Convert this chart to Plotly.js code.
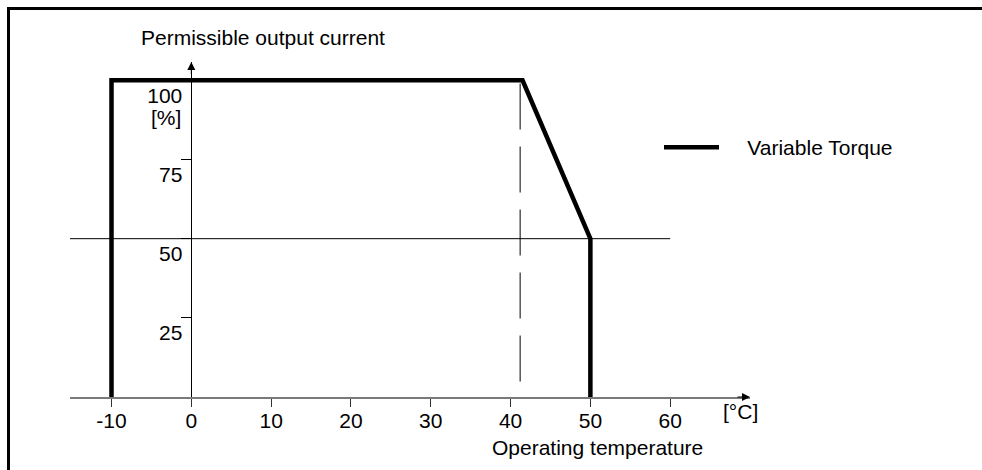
<!DOCTYPE html>
<html>
<head>
<meta charset="utf-8">
<script src="https://cdn.plot.ly/plotly-3.0.1.min.js"></script>
<style>
  html, body { margin: 0; padding: 0; background: #fff; }
  #chart { width: 982px; height: 470px; }
</style>
</head>
<body>
<div id="chart"></div>
<script>
// ---- data ----
const seriesName = 'Variable Torque';
const tempC = [-10, -10, 41.5, 50, 50];          // operating temperature [°C]
const currentPct = [0, 100, 100, 50, 0];         // permissible output current [%]
const refLineX = [-15.2, 60];                     // 50 % reference line
const refLineY = [50, 50];
const kneeDashX = [41.2, 41.2];                   // dashed guide at derating start
const kneeDashY = [99, 0];
const xTickVals = [-10, 0, 10, 20, 30, 40, 50, 60];
const xTickText = ['-10', '0', '10', '20', '30', '40', '50', '60'];
const yTickVals = [25, 50, 75, 100];
const yTickText = ['25', '50', '75', '100'];
const xRange = [-15.2, 70];
const yRange = [0, 105.8];

// ---- layout geometry ----
const W = 982, H = 470;
const M = { l: 70, r: 232, t: 62, b: 73 };
const pw = W - M.l - M.r, ph = H - M.t - M.b;
const px2paperX = px => (px - M.l) / pw;
const px2paperY = py => (H - M.b - py) / ph;
const yAxisPos = (0 - xRange[0]) / (xRange[1] - xRange[0]);

const FONT = 'Liberation Sans, Arial, sans-serif';
const FS = 21;
const tf = { family: FONT, size: FS, color: '#000' };
const legendGap = '\u00a0\u00a0\u00a0\u00a0';

const traces = [
  {
    x: refLineX, y: refLineY, mode: 'lines', showlegend: false,
    line: { color: '#000', width: 1 }, hoverinfo: 'skip'
  },
  {
    x: kneeDashX, y: kneeDashY, mode: 'lines', showlegend: false,
    line: { color: '#000', width: 1, dash: '46px,17px' }, hoverinfo: 'skip'
  },
  {
    x: tempC, y: currentPct, mode: 'lines', name: legendGap + seriesName,
    line: { color: '#000', width: 4.5 }, hoverinfo: 'skip'
  },
  // invisible helper trace so the label-only overlay axes exist
  {
    x: [xRange[0]], y: [yRange[0]], xaxis: 'x2', yaxis: 'y2', mode: 'markers',
    marker: { opacity: 0 }, showlegend: false, hoverinfo: 'skip'
  }
];

const layout = {
  width: W, height: H,
  margin: M,
  paper_bgcolor: '#fff', plot_bgcolor: 'rgba(0,0,0,0)',
  font: tf,
  hovermode: false,
  title: {
    text: 'Permissible output current',
    font: tf,
    xref: 'container', x: 141 / W, xanchor: 'left',
    yref: 'container', y: 1 - 38 / H, yanchor: 'middle',
    automargin: false
  },
  // axes that draw lines and tick marks
  xaxis: {
    range: xRange, showgrid: false, zeroline: true,
    zerolinecolor: '#000', zerolinewidth: 1,
    showline: true, linecolor: '#7a7a7a', linewidth: 2,
    ticks: 'outside', ticklen: 8, tickwidth: 1, tickcolor: '#333',
    tickvals: xTickVals, showticklabels: false,
    fixedrange: true
  },
  yaxis: {
    range: yRange, showgrid: false, zeroline: false, showline: false,
    anchor: 'free', position: yAxisPos,
    ticks: 'outside', ticklen: 10, tickwidth: 1, tickcolor: '#000',
    tickvals: yTickVals, showticklabels: false,
    fixedrange: true
  },
  // overlay axes that carry only the tick labels
  xaxis2: {
    overlaying: 'x', matches: 'x', range: xRange, anchor: 'y2', side: 'bottom',
    showgrid: false, zeroline: false, showline: false, ticks: '',
    tickvals: xTickVals, ticktext: xTickText, ticklabelstandoff: 9,
    tickfont: tf, fixedrange: true
  },
  yaxis2: {
    overlaying: 'y', range: yRange, anchor: 'free', position: yAxisPos, side: 'left',
    showgrid: false, zeroline: false, showline: false, ticks: '',
    tickvals: yTickVals, ticktext: yTickText,
    ticklabelshift: 15, ticklabelstandoff: 9,
    tickfont: tf, fixedrange: true
  },
  showlegend: true,
  legend: {
    x: px2paperX(659), xanchor: 'left',
    y: px2paperY(147.5), yanchor: 'middle',
    bgcolor: 'rgba(0,0,0,0)', borderwidth: 0,
    itemwidth: 55,
    font: tf
  },
  annotations: [
    { // y axis arrow head
      xref: 'x', yref: 'y', x: 0, y: yRange[1], ax: 0, ay: 14,
      text: '', showarrow: true, arrowhead: 2, arrowsize: 1.6, arrowwidth: 1, arrowcolor: '#000'
    },
    { // x axis arrow head
      xref: 'x', yref: 'y', x: xRange[1], y: 0, ax: -14, ay: 0,
      text: '', showarrow: true, arrowhead: 2, arrowsize: 1.6, arrowwidth: 1, arrowcolor: '#000'
    },
    {
      xref: 'x', yref: 'y', x: 0, y: 100, xanchor: 'right', yanchor: 'middle',
      xshift: -8, yshift: -37, text: '[%]', showarrow: false, font: tf
    },
    {
      xref: 'paper', yref: 'paper', x: px2paperX(740.5), y: px2paperY(411.7),
      xanchor: 'center', yanchor: 'middle', text: '[°C]', showarrow: false, font: tf
    },
    {
      xref: 'paper', yref: 'paper', x: px2paperX(597.5), y: px2paperY(448),
      xanchor: 'center', yanchor: 'middle', text: 'Operating temperature', showarrow: false, font: tf
    }
  ],
  shapes: [
    { type: 'line', xref: 'paper', yref: 'paper', layer: 'above',
      x0: px2paperX(8.5), x1: px2paperX(8.5), y0: px2paperY(7.5), y1: px2paperY(480),
      line: { color: '#000', width: 3 } },
    { type: 'line', xref: 'paper', yref: 'paper', layer: 'above',
      x0: px2paperX(7), x1: px2paperX(1000), y0: px2paperY(8.5), y1: px2paperY(8.5),
      line: { color: '#000', width: 3 } }
  ]
};

Plotly.newPlot('chart', traces, layout, { displayModeBar: false, staticPlot: true });
</script>
</body>
</html>
